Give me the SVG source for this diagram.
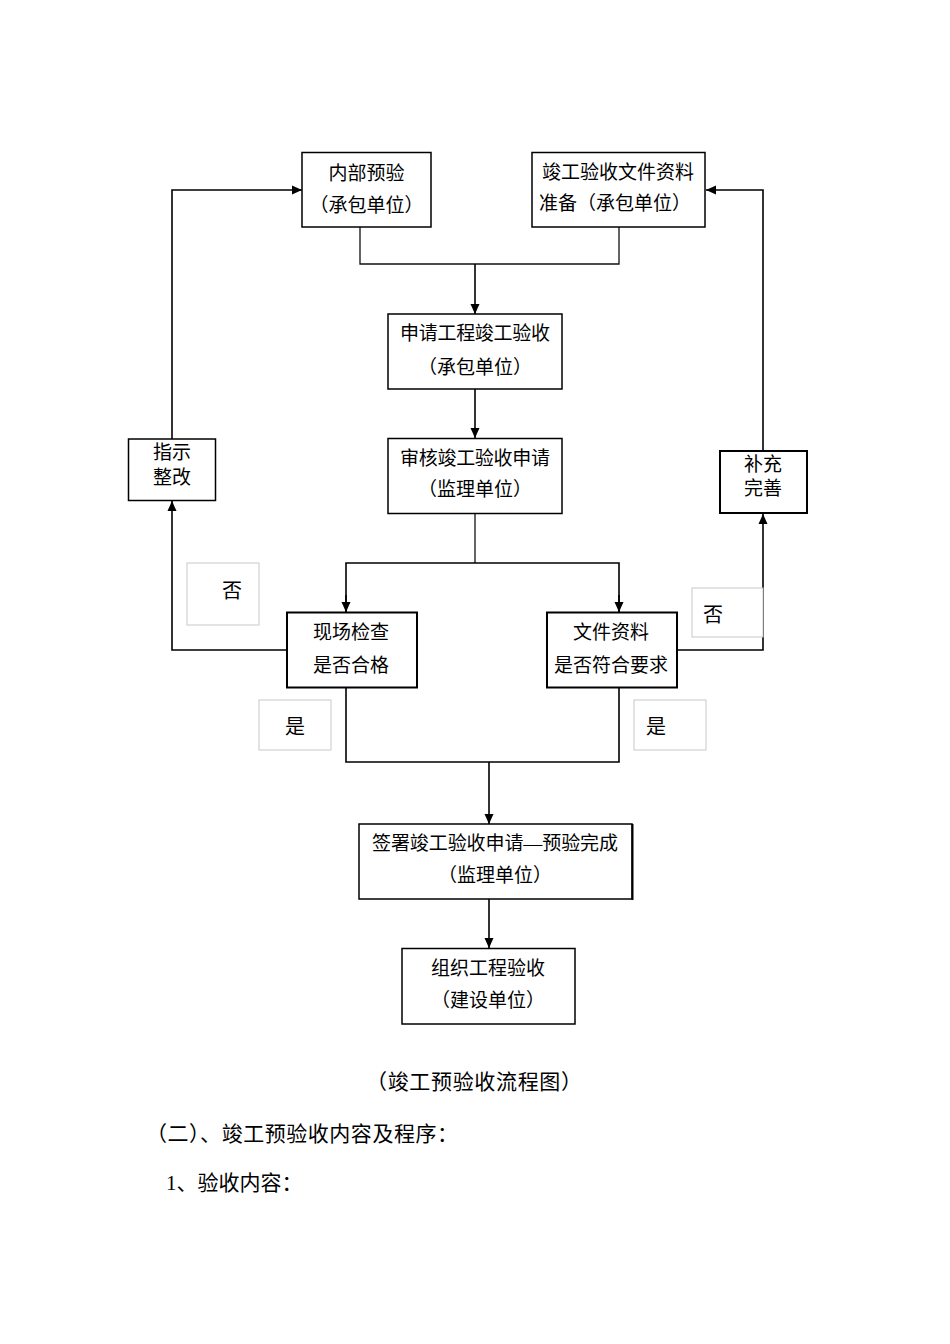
<svg xmlns="http://www.w3.org/2000/svg" width="950" height="1344" viewBox="0 0 950 1344">
<style>
  .box{fill:#fff;stroke:#000;stroke-width:1.5}
  .bold{stroke-width:2}
  .lbl{fill:#fff;stroke:#c8c8c8;stroke-width:1}
  text{font-family:"Liberation Serif","Noto Sans CJK SC",serif;font-size:19px;fill:#000;text-anchor:middle;dominant-baseline:central}
  .t20{font-size:20px}
  .body{font-size:21px;text-anchor:start}
  .cap{font-size:21px}
  .ln{fill:none;stroke:#000;stroke-width:1.6}
  .thin{fill:none;stroke:#111;stroke-width:1.3}
</style>
<defs>
  <marker id="arr" markerUnits="userSpaceOnUse" markerWidth="10" markerHeight="10" viewBox="0 0 10 10" refX="10" refY="5" orient="auto">
    <path d="M0,0.5 L10,5 L0,9.5 Z" fill="#000"/>
  </marker>
</defs>
<rect width="950" height="1344" fill="#fff"/>

<g id="connectors">
  <polyline class="thin" points="360,227 360,264 619,264 619,227"/>
  <line class="ln" x1="475" y1="264" x2="475" y2="314" marker-end="url(#arr)"/>
  <line class="ln" x1="475" y1="389" x2="475" y2="438" marker-end="url(#arr)"/>
  <line class="thin" x1="475" y1="513" x2="475" y2="563"/>
  <polyline class="ln" points="346,612 346,563 619,563 619,612"/>
  <line class="ln" x1="346" y1="595" x2="346" y2="612" marker-end="url(#arr)"/>
  <line class="ln" x1="619" y1="595" x2="619" y2="612" marker-end="url(#arr)"/>
  <polyline class="ln" points="287,650 172,650 172,501" marker-end="url(#arr)"/>
  <polyline class="ln" points="172,439 172,190 302,190" marker-end="url(#arr)"/>
  <polyline class="ln" points="677,650 763,650 763,514" marker-end="url(#arr)"/>
  <polyline class="ln" points="763,451 763,190 706,190" marker-end="url(#arr)"/>
  <polyline class="ln" points="346,688 346,762 619,762 619,688"/>
  <line class="ln" x1="489" y1="762" x2="489" y2="824" marker-end="url(#arr)"/>
  <line class="ln" x1="489" y1="899" x2="489" y2="948" marker-end="url(#arr)"/>
</g>

<g id="n1">
  <rect class="box" x="302" y="152.5" width="129" height="74.5"/>
  <text x="366.5" y="173">内部预验</text>
  <text x="366.5" y="205">（承包单位）</text>
</g>
<g id="n2">
  <rect class="box" x="532" y="152.5" width="173" height="74.5"/>
  <text x="618" y="172">竣工验收文件资料</text>
  <text x="615" y="203">准备（承包单位）</text>
</g>
<g id="n3">
  <rect class="box" x="388" y="314" width="174" height="75"/>
  <text x="475" y="333" textLength="150" lengthAdjust="spacing">申请工程竣工验收</text>
  <text x="475" y="367">（承包单位）</text>
</g>
<g id="n4">
  <rect class="box" x="388" y="438.5" width="174" height="75"/>
  <text x="475" y="458" textLength="150" lengthAdjust="spacing">审核竣工验收申请</text>
  <text x="475" y="489">（监理单位）</text>
</g>
<g id="n5">
  <rect class="box" x="128.5" y="439" width="87" height="61.5"/>
  <text x="172" y="452">指示</text>
  <text x="172" y="477">整改</text>
</g>
<g id="n6">
  <rect class="box bold" x="720" y="451" width="87" height="62"/>
  <text x="763" y="464">补充</text>
  <text x="763" y="488">完善</text>
</g>
<g id="n7">
  <rect class="box bold" x="287" y="612.5" width="130" height="75"/>
  <text x="351" y="632">现场检查</text>
  <text x="351" y="665">是否合格</text>
</g>
<g id="n8">
  <rect class="box bold" x="547" y="612.5" width="130" height="75"/>
  <text x="611" y="632">文件资料</text>
  <text x="611" y="665">是否符合要求</text>
</g>
<g id="lbl-no-left">
  <rect class="lbl" x="187" y="563" width="72" height="62"/>
  <text class="t20" x="232" y="591">否</text>
</g>
<g id="lbl-no-right">
  <rect class="lbl" x="692" y="588" width="71" height="49"/>
  <text class="t20" x="713" y="615">否</text>
</g>
<g id="lbl-yes-left">
  <rect class="lbl" x="259" y="700" width="72" height="50"/>
  <text class="t20" x="295" y="727">是</text>
</g>
<g id="lbl-yes-right">
  <rect class="lbl" x="634" y="700" width="72" height="50"/>
  <text class="t20" x="656" y="727">是</text>
</g>
<g id="n9">
  <rect class="box" x="359" y="824" width="273" height="75"/>
  <line x1="632.5" y1="824" x2="632.5" y2="900" stroke="#000" stroke-width="2"/>
  <text x="495" y="843" textLength="246" lengthAdjust="spacing">签署竣工验收申请—预验完成</text>
  <text x="495" y="875">（监理单位）</text>
</g>
<g id="n10">
  <rect class="box" x="402" y="948.5" width="173" height="75.5"/>
  <text x="488" y="968">组织工程验收</text>
  <text x="488" y="1000">（建设单位）</text>
</g>

<text class="cap" x="474" y="1082" textLength="216" lengthAdjust="spacing">（竣工预验收流程图）</text>
<text class="body" x="146" y="1134" textLength="312" lengthAdjust="spacing">（二）、竣工预验收内容及程序：</text>
<text class="body" x="166" y="1183">1、验收内容：</text>
</svg>
